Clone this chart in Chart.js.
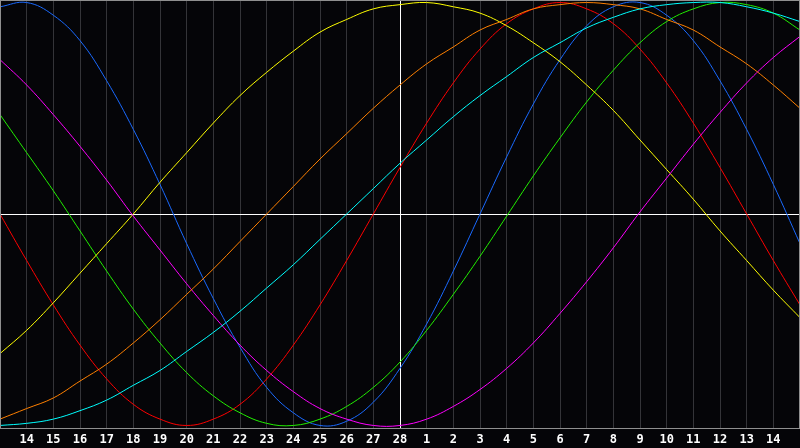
<!DOCTYPE html>
<html>
<head>
<meta charset="utf-8">
<title>Biorhythm</title>
<script src="https://cdn.jsdelivr.net/npm/chart.js@4"></script>
<style>
    body { margin: 0; background: #050508; }
    #wrap { width: 800px; height: 448px; position: relative; }
</style>
</head>
<body>
<div id="wrap"><canvas id="chart"></canvas></div>
<script>
// Days shown along the bottom (first and last sit on the frame and are not labelled)
const days = ['13', '14', '15', '16', '17', '18', '19', '20', '21', '22', '23', '24', '25', '26', '27', '28',
    '1', '2', '3', '4', '5', '6', '7', '8', '9', '10', '11', '12', '13', '14', '15'];
const todayIndex = 15;

// Curve values, one per day
const redValues = [0, -0.22, -0.43, -0.62, -0.78, -0.90, -0.97, -1.00, -0.97, -0.90, -0.78, -0.62, -0.43, -0.22, 0,
    0.22, 0.43, 0.62, 0.78, 0.90, 0.97, 1.00, 0.97, 0.90, 0.78, 0.62, 0.43, 0.22, 0, -0.22, -0.43];
const blueValues = [0.98, 1.00, 0.94, 0.82, 0.63, 0.40, 0.14, -0.14, -0.40, -0.63, -0.82, -0.94, -1.00, -0.98, -0.89,
    -0.73, -0.52, -0.27, 0, 0.27, 0.52, 0.73, 0.89, 0.98, 1.00, 0.94, 0.82, 0.63, 0.40, 0.14, -0.14];
const greenValues = [0.47, 0.29, 0.11, -0.08, -0.27, -0.45, -0.61, -0.75, -0.86, -0.94, -0.99, -1.00, -0.97, -0.91, -0.82,
    -0.70, -0.55, -0.38, -0.20, -0.01, 0.18, 0.36, 0.53, 0.68, 0.81, 0.91, 0.97, 1.00, 0.99, 0.95, 0.87];
const yellowValues = [-0.66, -0.55, -0.42, -0.28, -0.14, 0, 0.15, 0.29, 0.43, 0.56, 0.67, 0.77, 0.86, 0.92, 0.97,
    0.99, 1.00, 0.98, 0.95, 0.89, 0.81, 0.72, 0.61, 0.49, 0.35, 0.21, 0.07, -0.08, -0.22, -0.36, -0.49];
const orangeValues = [-0.97, -0.92, -0.87, -0.79, -0.71, -0.61, -0.50, -0.38, -0.26, -0.13, 0, 0.13, 0.26, 0.38, 0.50,
    0.61, 0.71, 0.79, 0.87, 0.92, 0.97, 0.99, 1.00, 0.99, 0.97, 0.92, 0.87, 0.79, 0.71, 0.61, 0.50];
const cyanValues = [-1.00, -0.99, -0.97, -0.93, -0.88, -0.81, -0.74, -0.65, -0.56, -0.46, -0.35, -0.24, -0.12, 0, 0.12,
    0.24, 0.35, 0.46, 0.56, 0.65, 0.74, 0.81, 0.88, 0.93, 0.97, 0.99, 1.00, 1.00, 0.98, 0.95, 0.91];
const magentaValues = [0.73, 0.61, 0.47, 0.32, 0.16, -0.01, -0.17, -0.33, -0.48, -0.62, -0.74, -0.84, -0.92, -0.97, -1.00,
    -1.00, -0.97, -0.91, -0.83, -0.73, -0.61, -0.47, -0.32, -0.16, 0.01, 0.17, 0.33, 0.48, 0.62, 0.74, 0.84];

function line(values, color) {
    return {
        data: values,
        borderColor: color,
        borderWidth: 1,
        pointRadius: 0,
        pointHoverRadius: 0,
        fill: false,
        tension: 0.4
    };
}

// Grey frame round the plot area
const framePlugin = {
    id: 'frame',
    afterDraw(chart) {
        const { ctx, chartArea } = chart;
        ctx.save();
        ctx.strokeStyle = '#8f8f8f';
        ctx.lineWidth = 1;
        ctx.strokeRect(chartArea.left + 0.5, chartArea.top + 0.5,
            chartArea.right - chartArea.left - 1, chartArea.bottom - chartArea.top);
        ctx.restore();
    }
};

new Chart(document.getElementById('chart'), {
    type: 'line',
    data: {
        labels: days,
        datasets: [
            line(cyanValues, '#00ffff'),
            line(orangeValues, '#ff8000'),
            line(magentaValues, '#ff00ff'),
            line(yellowValues, '#ffff00'),
            line(greenValues, '#22f000'),
            line(blueValues, '#1a6aff'),
            line(redValues, '#ff0000')
        ]
    },
    options: {
        responsive: true,
        maintainAspectRatio: false,
        animation: false,
        devicePixelRatio: 1,
        layout: { padding: 0, autoPadding: false },
        plugins: {
            legend: { display: false },
            tooltip: { enabled: false }
        },
        scales: {
            x: {
                offset: false,
                border: { display: false },
                afterFit: scale => {
                    // plot runs edge to edge, labels strip is 20px
                    scale.paddingLeft = 0;
                    scale.paddingRight = 0;
                    scale.height = 20;
                },
                grid: {
                    drawTicks: false,
                    lineWidth: 1,
                    color: ctx => {
                        if (ctx.index === todayIndex) return '#ffffff';
                        return '#343438';
                    }
                },
                ticks: {
                    autoSkip: false,
                    maxRotation: 0,
                    padding: 5,
                    color: '#ffffff',
                    font: { family: 'DejaVu Sans Mono', size: 12, weight: 'bold' },
                    callback: function (value, index) {
                        if (index === 0 || index === days.length - 1) return '';
                        return days[index];
                    }
                }
            },
            y: {
                min: -1.012,
                max: 1.012,
                border: { display: false },
                afterFit: scale => {
                    scale.width = 0;
                    scale.paddingTop = 0;
                    scale.paddingBottom = 0;
                },
                grid: {
                    drawTicks: false,
                    color: ctx => (ctx.tick && ctx.tick.value === 0 ? '#ffffff' : 'rgba(0,0,0,0)')
                },
                ticks: { display: false, stepSize: 1 }
            }
        }
    },
    plugins: [framePlugin]
});
</script>
</body>
</html>
